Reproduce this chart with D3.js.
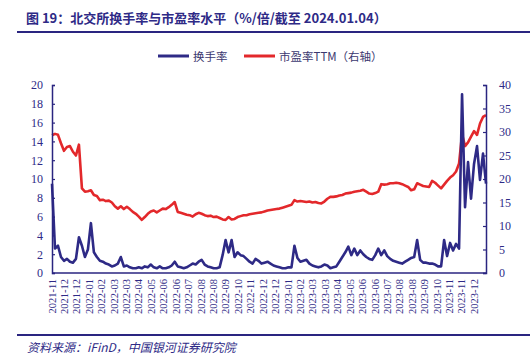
<!DOCTYPE html>
<html><head><meta charset="utf-8">
<script src="https://cdn.jsdelivr.net/npm/d3@7/dist/d3.min.js"></script>
<style>
html,body{margin:0;padding:0;background:#fff;}
svg{display:block;}
</style></head>
<body>
<svg id="c" width="530" height="359"></svg>
<script>
const titleText = "图 19：北交所换手率与市盈率水平（%/倍/截至 2024.01.04）";
const sourceText = "资料来源：iFinD，中国银河证券研究院";
const seriesNames = ["换手率", "市盈率TTM（右轴）"];
const xLabels = ["2021-11","2021-12","2021-12","2022-01","2022-02","2022-03","2022-03","2022-04","2022-05","2022-06","2022-06","2022-07","2022-08","2022-08","2022-09","2022-10","2022-11","2022-12","2022-12","2023-01","2023-02","2023-03","2023-03","2023-04","2023-05","2023-06","2023-06","2023-07","2023-08","2023-08","2023-09","2023-10","2023-11","2023-11","2023-12"];
const totalDays = 525;
const labelEvery = 15;
const leftTicks = [0,2,4,6,8,10,12,14,16,18,20];
const rightTicks = [0,5,10,15,20,25,30,35,40];

const turnover = [9.5,2.6,2.9,1.7,1.3,1.5,1.2,1.1,1.5,3.8,2.9,1.7,2.5,5.3,2.2,1.7,1.3,1.2,1.0,0.9,
0.7,0.8,1.0,1.7,0.7,0.8,0.6,0.5,0.5,0.6,0.5,0.7,0.6,0.9,0.6,0.5,0.7,0.5,0.5,0.6,
0.8,1.2,0.7,0.6,0.5,0.6,0.8,1.0,0.9,1.2,1.4,0.9,0.7,0.6,0.5,0.5,0.6,1.9,3.5,2.2,
3.5,1.7,2.2,1.9,1.8,1.5,1.2,1.0,1.5,1.3,1.0,1.1,1.2,1.0,0.8,0.7,0.6,0.5,0.5,0.6,
0.6,2.9,1.6,1.2,1.3,1.4,1.0,0.8,0.7,0.6,0.7,0.9,0.8,0.5,0.6,0.7,1.2,1.7,2.2,2.8,
1.9,2.6,1.9,2.4,2.0,1.7,1.5,1.4,1.9,2.6,1.9,2.4,1.8,1.5,1.3,1.2,1.1,1.0,1.2,1.4,
1.6,1.7,3.5,1.4,1.1,1.1,1.0,1.0,0.9,0.7,0.7,3.5,1.8,3.2,2.4,3.1,2.6,19.0,7.0,11.8,
7.9,11.6,13.5,9.9,12.7,9.5];

const pe = [29.3,29.6,29.4,27.6,26.0,26.8,27.0,25.8,25.0,27.3,18.0,17.3,17.4,17.6,16.6,16.4,15.5,15.6,15.3,15.4,
15.0,14.2,13.7,14.2,13.6,14.1,13.6,13.0,12.6,12.0,11.3,11.9,12.6,13.1,13.3,12.9,13.3,13.7,13.6,14.0,
14.5,15.1,13.0,12.8,12.6,12.4,12.3,12.0,12.5,12.8,12.6,12.3,12.1,12.2,11.9,12.0,11.7,11.4,11.3,11.9,
11.4,11.5,11.9,12.1,12.3,12.3,12.5,12.6,12.7,12.8,12.9,13.1,13.3,13.4,13.5,13.6,13.7,13.9,14.1,14.3,
14.5,15.5,15.2,15.3,15.2,15.1,15.2,15.0,15.1,14.9,14.8,15.2,15.8,16.2,16.2,16.3,16.5,16.6,16.9,17.0,
17.1,17.3,17.4,17.5,17.7,17.3,16.9,16.8,17.0,17.3,18.9,18.8,18.9,19.1,19.1,19.2,19.1,18.9,18.6,18.3,
17.6,17.8,19.1,18.8,18.5,18.4,18.3,19.6,19.2,18.6,18.0,18.8,19.6,20.3,20.8,21.6,23.3,29.5,27.0,27.8,
29.0,30.2,29.4,31.8,33.2,33.6];

const navy = "#2e2a86";
const axisColor = "#2a2580";
const red = "#e3282b";
const serif = "'Liberation Serif','DejaVu Serif',serif";
const cjk = "'Noto Sans CJK SC','Noto Sans',sans-serif";

const svg = d3.select("#c");
const L = 52, R = 486, T = 85, B = 273;

// title
svg.append("text").attr("x", 26).attr("y", 23)
  .attr("font-family", cjk).attr("font-weight", "bold").attr("font-size", 13)
  .attr("fill", navy).text(titleText);
svg.append("line").attr("x1", 17).attr("x2", 530).attr("y1", 32).attr("y2", 32)
  .attr("stroke", axisColor).attr("stroke-width", 2);

// legend
const legend = [{name: seriesNames[0], color: navy, x: 158}, {name: seriesNames[1], color: red, x: 244}];
legend.forEach(d => {
  svg.append("line").attr("x1", d.x).attr("x2", d.x + 31).attr("y1", 56).attr("y2", 56)
    .attr("stroke", d.color).attr("stroke-width", 3);
  svg.append("text").attr("x", d.x + 35).attr("y", 60.5)
    .attr("font-family", cjk).attr("font-size", 11.5).attr("fill", "#3b3870").text(d.name);
});

const x = d3.scaleLinear().domain([0, totalDays - 1]).range([L, R]);
const yL = d3.scaleLinear().domain([0, 20]).range([B, T]);
const yR = d3.scaleLinear().domain([0, 40]).range([B, T]);

const dayOf = (i, n) => i * (totalDays - 1) / (n - 1);

// lines
const lineL = d3.line().x((d, i) => x(dayOf(i, turnover.length))).y(d => yL(d));
const lineR = d3.line().x((d, i) => x(dayOf(i, pe.length))).y(d => yR(d));
svg.append("path").datum(pe).attr("d", lineR).attr("fill", "none")
  .attr("stroke", red).attr("stroke-width", 2.6).attr("stroke-linejoin", "round");
svg.append("path").datum(turnover).attr("d", lineL).attr("fill", "none")
  .attr("stroke", navy).attr("stroke-width", 2.6).attr("stroke-linejoin", "round");

// axes
const gl = svg.append("g").attr("transform", `translate(${L},0)`)
  .call(d3.axisLeft(yL).tickValues(leftTicks).tickSize(-3).tickPadding(9).tickFormat(d3.format("d")));
const gr = svg.append("g").attr("transform", `translate(${R},0)`)
  .call(d3.axisRight(yR).tickValues(rightTicks).tickSize(-3).tickPadding(13).tickFormat(d3.format("d")));
[gl, gr].forEach(g => {
  g.select(".domain").attr("stroke", axisColor).attr("stroke-width", 1.5);
  g.selectAll(".tick line").attr("stroke", axisColor).attr("stroke-width", 1.2);
  g.selectAll(".tick text").attr("font-family", serif).attr("font-size", 12).attr("fill", navy);
});
svg.append("line").attr("x1", L).attr("x2", R).attr("y1", B).attr("y2", B)
  .attr("stroke", axisColor).attr("stroke-width", 1.5);

// x labels
svg.append("g").selectAll("text").data(xLabels).join("text")
  .attr("transform", (d, i) => `translate(${x(i * labelEvery) + 3.5},279) rotate(-90)`)
  .attr("text-anchor", "end")
  .attr("font-family", serif).attr("font-size", 10.5).attr("fill", navy)
  .text(d => d);

// source
svg.append("line").attr("x1", 17).attr("x2", 530).attr("y1", 335).attr("y2", 335)
  .attr("stroke", axisColor).attr("stroke-width", 2);
svg.append("text").attr("x", 27).attr("y", 352)
  .attr("font-family", cjk).attr("font-style", "italic").attr("font-size", 12)
  .attr("fill", navy).text(sourceText);
</script>
</body></html>
